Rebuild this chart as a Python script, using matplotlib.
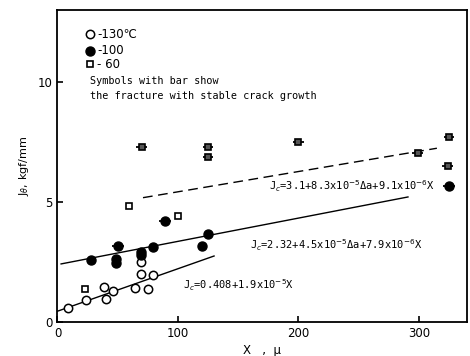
import matplotlib.pyplot as plt

# -130 C (open circles)
x130 = [9, 24, 40, 39, 46, 64, 75, 69, 79, 69]
j130 = [0.6, 0.92, 0.95, 1.45, 1.29, 1.4, 1.37, 1.99, 1.96, 2.49]

# -100 C (filled circles), without / with bar
x100 = [28, 49, 49, 69, 69, 79, 120, 125]
j100 = [2.58, 2.61, 2.47, 2.92, 2.79, 3.14, 3.18, 3.67]
x100_bar = [50, 89, 325]
j100_bar = [3.18, 4.2, 5.68]

# -60 C (squares), without / with bar
x60 = [23, 59, 100]
j60 = [1.38, 4.85, 4.4]
x60_bar = [70, 125, 125, 200, 299, 325, 324]
j60_bar = [7.3, 7.3, 6.86, 7.51, 7.05, 7.72, 6.51]

# fitted lines (end points)
fit130_x = [0, 130]
fit130_y = [0.45, 2.75]
fit100_x = [3, 291]
fit100_y = [2.42, 5.21]
fit60_x = [71, 315]
fit60_y = [5.18, 7.24]

mono = "DejaVu Sans Mono"

fig = plt.figure(figsize=(4.7, 3.56), dpi=100)
ax = fig.add_axes([0.1223, 0.0955, 0.8713, 0.8764])

ax.plot(fit130_x, fit130_y, color="black", lw=1.0)
ax.plot(fit100_x, fit100_y, color="black", lw=1.0)
ax.plot(fit60_x, fit60_y, color="black", lw=1.0, dashes=(7, 4))

ax.plot(x130, j130, "o", ms=6, mfc="white", mec="black", mew=1.1)
ax.plot(x100, j100, "o", ms=6.5, mfc="black", mec="black")
ax.errorbar(x100_bar, j100_bar, xerr=5, fmt="o", ms=6.5, mfc="black",
            mec="black", ecolor="black", elinewidth=1.3, capsize=0)
ax.plot(x60, j60, "s", ms=5, mfc="white", mec="black", mew=1.2)
ax.errorbar(x60_bar, j60_bar, xerr=4.5, fmt="s", ms=5, mfc="#555555",
            mec="black", mew=1.2, ecolor="black", elinewidth=1.3, capsize=0)

# legend as text
ax.plot([27], [12.0], "o", ms=6, mfc="white", mec="black", mew=1.1)
ax.plot([27], [11.3], "o", ms=6.5, mfc="black", mec="black")
ax.plot([27], [10.75], "s", ms=5, mfc="white", mec="black", mew=1.2)
ax.text(33, 12.0, "-130℃", fontsize=8.5, va="center")
ax.text(33, 11.3, "-100", fontsize=8.5, va="center")
ax.text(33, 10.75, "- 60", fontsize=8.5, va="center")
ax.text(27, 10.05, "Symbols with bar show", fontsize=7.3, family=mono, va="center")
ax.text(27, 9.4, "the fracture with stable crack growth", fontsize=7.3,
        family=mono, va="center")

ax.text(176, 5.67, r"J$_c$=3.1+8.3x10$^{-5}$Δa+9.1x10$^{-6}$X", fontsize=7.5,
        family=mono, va="center")
ax.text(160, 3.2, r"J$_c$=2.32+4.5x10$^{-5}$Δa+7.9x10$^{-6}$X", fontsize=7.5,
        family=mono, va="center")
ax.text(104, 1.54, r"J$_c$=0.408+1.9x10$^{-5}$X", fontsize=7.5,
        family=mono, va="center")

ax.set_xlim(0, 340)
ax.set_ylim(0, 13)
ax.set_xticks([0, 100, 200, 300])
ax.set_yticks([0, 5, 10])
ax.tick_params(direction="in", length=4, width=1.2, labelsize=8.5)
for s in ax.spines.values():
    s.set_linewidth(1.3)

ax.set_xlabel("X   ,  μ", fontsize=8.5, labelpad=3)
ax.set_ylabel("J$_θ$, kgf/mm", fontsize=8, labelpad=5)

fig.savefig("out.png", dpi=100)
